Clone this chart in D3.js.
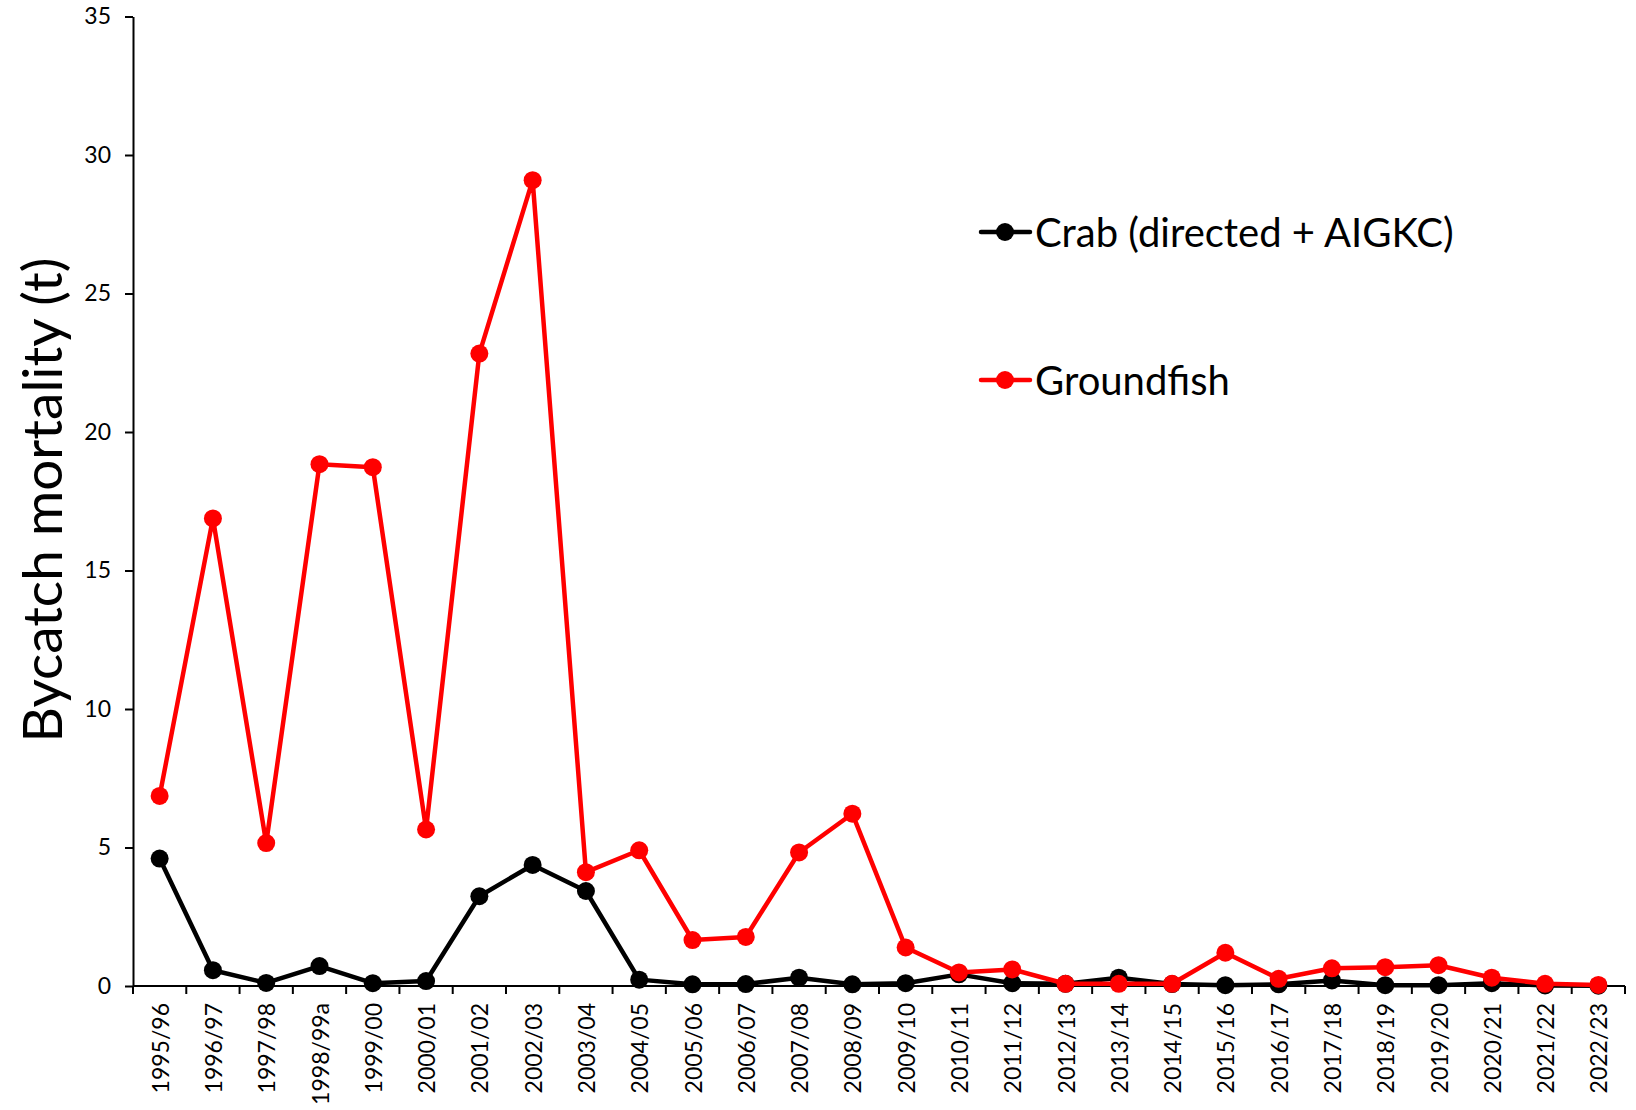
<!DOCTYPE html>
<html>
<head>
<meta charset="utf-8">
<script src="https://cdn.jsdelivr.net/npm/d3@7"></script>
<style>
  html, body { margin: 0; padding: 0; background: #fff; }
  svg { display: block; }
  text { font-family: Lato, "Open Sans", sans-serif; fill: #000; }
</style>
</head>
<body>
<svg id="chart" width="1636" height="1110"></svg>
<script>
const seasons = ["1995/96","1996/97","1997/98","1998/99a","1999/00","2000/01","2001/02","2002/03","2003/04","2004/05","2005/06","2006/07","2007/08","2008/09","2009/10","2010/11","2011/12","2012/13","2013/14","2014/15","2015/16","2016/17","2017/18","2018/19","2019/20","2020/21","2021/22","2022/23"];
const crab = [4.6,0.57,0.11,0.72,0.1,0.18,3.24,4.37,3.43,0.23,0.06,0.07,0.3,0.06,0.1,0.42,0.1,0.08,0.3,0.07,0.03,0.06,0.2,0.03,0.03,0.1,0.02,0.01];
const groundfish = [6.86,16.88,5.16,18.84,18.73,5.65,22.83,29.09,4.11,4.9,1.66,1.77,4.82,6.22,1.39,0.49,0.6,0.08,0.08,0.08,1.2,0.26,0.64,0.68,0.75,0.3,0.08,0.04];
const yTicks = [0,5,10,15,20,25,30,35];
const seriesNames = ["Crab (directed + AIGKC)", "Groundfish"];
const seriesColors = ["#000000", "#ff0000"];
const yTitle = "Bycatch mortality (t)";

const svg = d3.select("#chart");
const plotLeft = 133, plotRight = 1625, plotTop = 16.5, plotBottom = 986;

const x = d3.scaleBand().domain(seasons).range([plotLeft, plotRight]).paddingInner(0).paddingOuter(0);
const y = d3.scaleLinear().domain([0, 35]).range([plotBottom, plotTop]);

// Y axis
const yAxis = d3.axisLeft(y).tickValues(yTicks).tickSize(8).tickPadding(14).tickSizeOuter(0);
const gy = svg.append("g").attr("transform", `translate(${plotLeft},0)`).call(yAxis);
gy.selectAll("path.domain").attr("stroke", "#000").attr("stroke-width", 2);
gy.selectAll(".tick line").attr("stroke", "#000").attr("stroke-width", 2);
gy.selectAll(".tick text").attr("font-size", 23).attr("font-family", "Lato, sans-serif").attr("fill", "#000");

// X axis: ticks at band boundaries
svg.append("line").attr("x1", plotLeft).attr("x2", plotRight).attr("y1", plotBottom).attr("y2", plotBottom)
  .attr("stroke", "#000").attr("stroke-width", 2);
const bounds = seasons.map(s => x(s)).concat([x(seasons[seasons.length-1]) + x.bandwidth()]);
svg.append("g").selectAll("line").data(bounds).join("line")
  .attr("x1", d => d).attr("x2", d => d).attr("y1", plotBottom).attr("y2", plotBottom + 8)
  .attr("stroke", "#000").attr("stroke-width", 2);
svg.append("g").selectAll("text").data(seasons).join("text")
  .attr("transform", d => `translate(${x(d) + x.bandwidth()/2},${plotBottom + 17}) rotate(-90)`)
  .attr("text-anchor", "end").attr("dominant-baseline", "central")
  .attr("font-size", 23).text(d => d);

// Y title
svg.append("text").attr("transform", `translate(41,500) rotate(-90)`)
  .attr("text-anchor", "middle").attr("dominant-baseline", "central")
  .attr("font-size", 55).text(yTitle);

// Lines
const line = d3.line().x((d, i) => x(seasons[i]) + x.bandwidth()/2).y(d => y(d));
[crab, groundfish].forEach((data, k) => {
  svg.append("path").datum(data).attr("d", line).attr("fill", "none")
    .attr("stroke", seriesColors[k]).attr("stroke-width", 4.5).attr("stroke-linejoin", "round");
  svg.append("g").selectAll("circle").data(data).join("circle")
    .attr("cx", (d, i) => x(seasons[i]) + x.bandwidth()/2).attr("cy", d => y(d))
    .attr("r", 9).attr("fill", seriesColors[k]);
});

// Legend
const legY = [232, 380];
seriesNames.forEach((name, k) => {
  const g = svg.append("g");
  g.append("line").attr("x1", 981).attr("x2", 1030).attr("y1", legY[k]).attr("y2", legY[k])
    .attr("stroke", seriesColors[k]).attr("stroke-width", 4.5).attr("stroke-linecap", "round");
  g.append("circle").attr("cx", 1005).attr("cy", legY[k]).attr("r", 9).attr("fill", seriesColors[k]);
  g.append("text").attr("x", 1035).attr("y", legY[k]).attr("dominant-baseline", "central")
    .attr("font-size", 40).text(name);
});
</script>
</body>
</html>
